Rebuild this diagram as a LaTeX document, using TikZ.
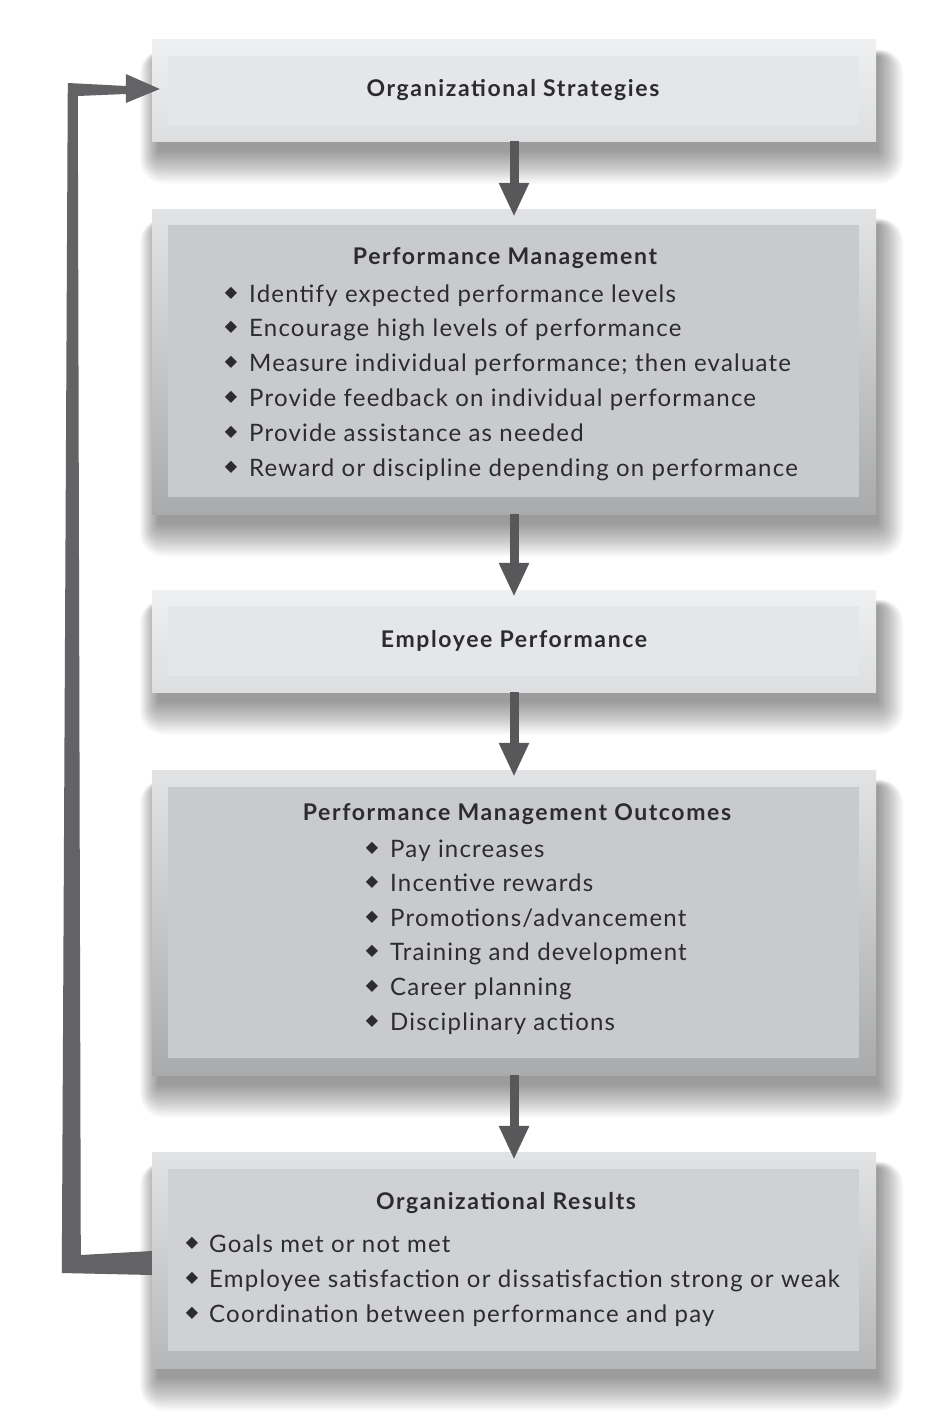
\documentclass[tikz,border=0pt]{standalone}
\usepackage{fontspec}
\setmainfont{Lato}
\newfontfamily\bodyfont[LetterSpace=5]{Lato}
\newfontfamily\titlefont[LetterSpace=7]{Lato}
\newfontfamily\symfont{DejaVu Sans}
\usetikzlibrary{arrows.meta,calc,backgrounds}
\definecolor{txt}{HTML}{2C2C2E}
\definecolor{arrc}{HTML}{58585A}
\definecolor{fbc}{HTML}{636365}
\definecolor{lightout}{HTML}{EFF0F1}
\definecolor{lightoutb}{HTML}{DDDEE0}
\definecolor{lightin}{HTML}{E5E6E8}
\definecolor{darkout}{HTML}{E2E3E5}
\definecolor{darkoutb}{HTML}{A9AAAC}
\definecolor{darkin}{HTML}{C9CACC}
\definecolor{resin}{HTML}{D0D1D3}
\definecolor{resoutb}{HTML}{B6B7B9}
\tikzset{
  outerbox/.style={rectangle, inner sep=0pt, minimum width=724pt},
  lightbox/.style={outerbox, top color=lightout, bottom color=lightoutb},
  darkbox/.style={outerbox, top color=darkout, bottom color=darkoutb},
  resbox/.style={outerbox, top color=darkout, bottom color=resoutb},
  innerbox/.style={rectangle, inner sep=0pt, minimum width=691pt},
  ttl/.style={font=\titlefont\fontsize{23}{26}\selectfont\bfseries, text=txt, anchor=base, inner sep=0pt},
  itm/.style={font=\bodyfont\fontsize{24}{28}\selectfont, text=txt, anchor=base west, inner sep=0pt},
  bul/.style={font=\symfont\fontsize{16}{16}\selectfont, text=txt, anchor=center, inner sep=0pt},
  varr/.style={draw=arrc, line width=9pt, -{Triangle[width=28pt,length=34pt]}},
  shadowlayer/.style={black, opacity=0.018},
}
\newcommand\softshadow[1]{%
  \foreach \k in {0,...,21}{%
    \fill[shadowlayer, rounded corners={\k*1.1pt+1pt}]
      ($(#1.south west)+({6-\k*0.85},{10+\k*1.55})$) rectangle
      ($(#1.north east)+({2+\k*1.2},{16-\k*0.3})$);
  }%
}
\begin{document}
\begin{tikzpicture}[x=1pt,y=-1pt]
\useasboundingbox (0,0) rectangle (928,1426);

% boxes
\node[lightbox, minimum height=101pt] (o1) at (514,90.5) {};
\node[innerbox, fill=lightin, minimum height=69pt] (i1) at (513.5,90.5) {};
\node[darkbox, minimum height=305pt] (o2) at (514,361.5) {};
\node[innerbox, fill=darkin, minimum height=272pt] (i2) at (513.5,361) {};
\node[lightbox, minimum height=102pt] (o3) at (514,641) {};
\node[innerbox, fill=lightin, minimum height=70pt] (i3) at (513.5,641) {};
\node[darkbox, minimum height=305pt] (o4) at (514,922.5) {};
\node[innerbox, fill=darkin, minimum height=271pt] (i4) at (513.5,922.5) {};
\node[resbox, minimum height=216pt] (o5) at (514,1260) {};
\node[innerbox, fill=resin, minimum height=182pt] (i5) at (513.5,1260) {};

\begin{scope}[on background layer]
  \fill[white] (0,0) rectangle (928,1426);
  \softshadow{o1}
  \softshadow{o2}
  \softshadow{o3}
  \softshadow{o4}
  \softshadow{o5}
\end{scope}

% titles
\node[ttl] (t1) at (513,97) {Organizational Strategies};
\node[ttl] (t2) at (505,264) {Performance Management};
\node[ttl] (t3) at (514,647) {Employee Performance};
\node[ttl] (t4) at (517,820) {Performance Management Outcomes};
\node[ttl] (t5) at (506,1209) {Organizational Results};

% lists
\foreach \t [count=\i] in {Identify expected performance levels,
  Encourage high levels of performance,
  Measure individual performance; then evaluate,
  Provide feedback on individual performance,
  Provide assistance as needed,
  Reward or discipline depending on performance}{
  \node[bul] (ba\i) at (231,{293+34.8*(\i-1)}) {◆};
  \node[itm] (la\i) at (249,{302+34.8*(\i-1)}) {\t};
}
\foreach \t [count=\i] in {Pay increases,
  Incentive rewards,
  Promotions/advancement,
  Training and development,
  Career planning,
  Disciplinary actions}{
  \node[bul] (bb\i) at (372,{848+34.6*(\i-1)}) {◆};
  \node[itm] (lb\i) at (390,{857+34.6*(\i-1)}) {\t};
}
\foreach \t [count=\i] in {Goals met or not met,
  Employee satisfaction or dissatisfaction strong or weak,
  Coordination between performance and pay}{
  \node[bul] (bc\i) at (192,{1243+35*(\i-1)}) {◆};
  \node[itm] (lc\i) at (209,{1252+35*(\i-1)}) {\t};
}

% arrows
\draw[varr, shorten >=-8pt] (o1.south) -- (o2.north);
\draw[varr, shorten >=-7pt] (o2.south) -- (o3.north);
\draw[varr, shorten >=-7pt] (o3.south) -- (o4.north);
\draw[varr, shorten >=-8pt] (o4.south) -- (o5.north);

% feedback arrow
\coordinate (fs) at (o5.west);
\coordinate (ft) at ([xshift=8pt,yshift=1.5pt]o1.west);
\fill[fbc] ($(fs)+(0,-9)$) -- ($(fs)+(-71,-5)$) -- ($(ft)+(-82,7)$)
  -- ($(ft)+(-34,5)$) -- ($(ft)+(-34,14)$) -- (ft) -- ($(ft)+(-34,-15)$)
  -- ($(ft)+(-34,-3)$) -- ($(ft)+(-92,-6)$) -- ($(fs)+(-90,13)$)
  -- ($(fs)+(0,15)$) -- cycle;
\end{tikzpicture}
\end{document}
